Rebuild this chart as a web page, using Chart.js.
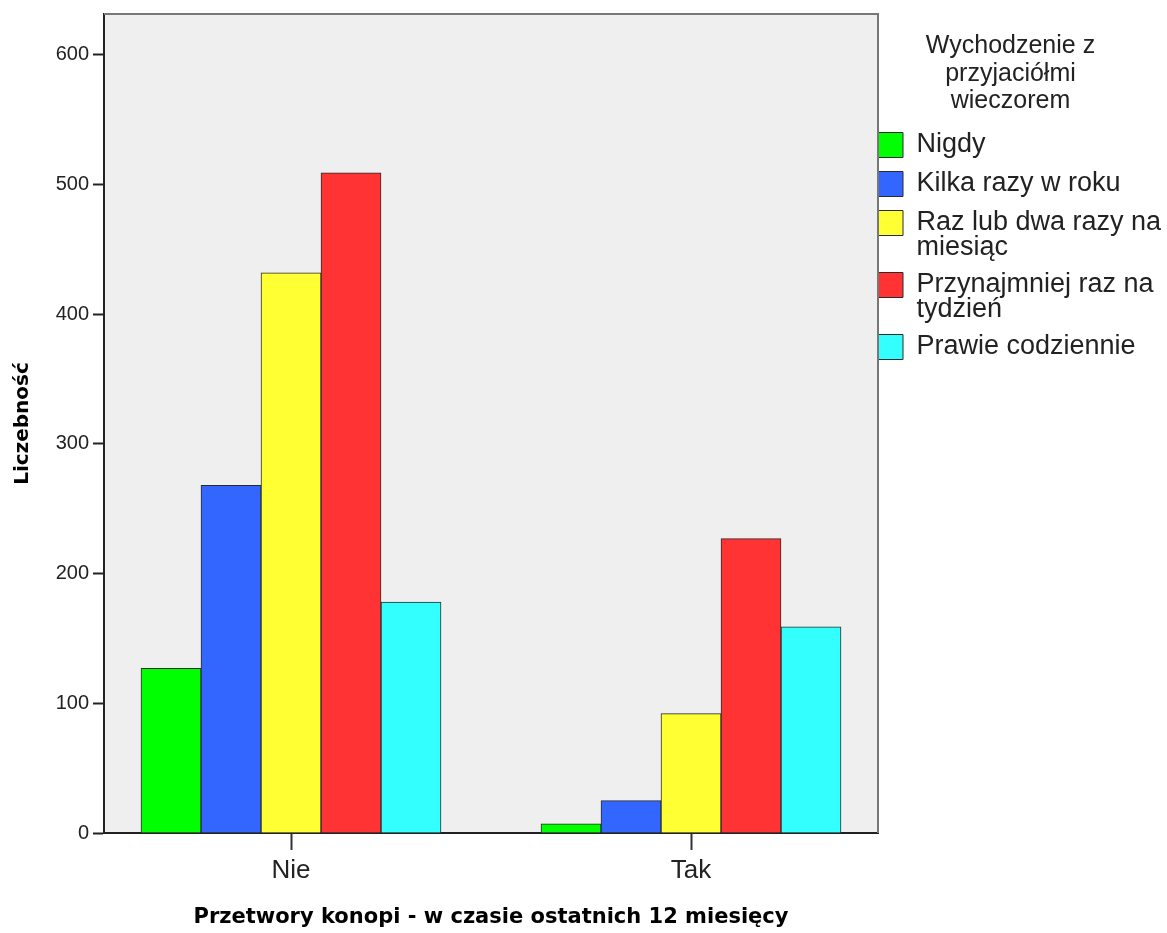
<!DOCTYPE html>
<html>
<head>
<meta charset="utf-8">
<script src="https://cdn.jsdelivr.net/npm/chart.js@4"></script>
<style>
  html, body { margin: 0; padding: 0; background: #ffffff; }
  #wrap { width: 1167px; height: 933px; }
</style>
</head>
<body>
<div id="wrap"><canvas id="chart_bars"></canvas></div>
<script>
const categories = ['Nie', 'Tak'];
const seriesNames = ['Nigdy', 'Kilka razy w roku', 'Raz lub dwa razy na\nmiesiąc', 'Przynajmniej raz na\ntydzień', 'Prawie codziennie'];
const nigdy = [127, 7];
const kilkaRazy = [268, 25];
const razLubDwa = [432, 92];
const przynajmniej = [509, 227];
const prawie = [178, 159];
const yTicks = [0, 100, 200, 300, 400, 500, 600];
const legendTitle = ['Wychodzenie z', 'przyjaciółmi', 'wieczorem'];

const seriesValues = [nigdy, kilkaRazy, razLubDwa, przynajmniej, prawie];
const colors = ['#00ff00', '#3366ff', '#ffff33', '#ff3333', '#33ffff'];

const textColor = '#222222';

// gray plot box with thin gray frame on top and right
const plotBox = {
  id: 'plotBox',
  beforeDraw(chart) {
    const {ctx, chartArea: a} = chart;
    ctx.save();
    ctx.fillStyle = '#efefef';
    ctx.fillRect(a.left, a.top, a.right - a.left, a.bottom - a.top);
    ctx.restore();
  },
  afterDraw(chart) {
    const {ctx, chartArea: a} = chart;
    ctx.save();
    ctx.strokeStyle = '#777777';
    ctx.lineWidth = 2;
    ctx.beginPath();
    ctx.moveTo(a.left, a.top);
    ctx.lineTo(a.right, a.top);
    ctx.lineTo(a.right, a.bottom);
    ctx.stroke();
    ctx.restore();
  },
  afterLayout(chart) {
    // legend boxes sit right against the plot frame
    chart.legend.left = chart.chartArea.right - 12;
  }
};

const datasets = seriesNames.map((name, i) => ({
  label: name,
  data: seriesValues[i].map((v, j) => ({x: j, y: v})),
  backgroundColor: colors[i],
  borderColor: '#2b2b2b',
  borderWidth: 1,
  barThickness: 60
}));

new Chart(document.getElementById('chart_bars'), {
  type: 'bar',
  data: { datasets: datasets },
  plugins: [plotBox],
  options: {
    responsive: true,
    maintainAspectRatio: false,
    animation: false,
    layout: { padding: { top: 12, right: 0, bottom: 0, left: 0 } },
    scales: {
      x: {
        type: 'linear',
        min: -0.4675,
        max: 1.4675,
        offset: false,
        z: 1,
        afterFit: (scale) => { scale.height = 100; },
        afterBuildTicks: (scale) => { scale.ticks = categories.map((c, i) => ({value: i})); },
        ticks: {
          callback: (v) => categories[v],
          color: textColor,
          padding: 5,
          font: { family: '"Liberation Sans", Arial, sans-serif', size: 26 }
        },
        grid: {
          offset: false,
          drawOnChartArea: false,
          drawTicks: true,
          tickLength: 17,
          tickWidth: 2,
          tickColor: '#333333'
        },
        border: { display: true, color: '#222222', width: 2 },
        title: {
          display: true,
          text: 'Przetwory konopi - w czasie ostatnich 12 miesięcy',
          color: '#000000',
          padding: { top: 0, bottom: 3 },
          font: { family: '"DejaVu Sans", sans-serif', size: 21, weight: 'bold' }
        }
      },
      y: {
        min: 0,
        max: 631.5,
        afterFit: (scale) => { scale.width = 104; },
        afterBuildTicks: (scale) => { scale.ticks = yTicks.map(v => ({value: v})); },
        ticks: {
          color: textColor,
          padding: 4,
          font: { family: '"Liberation Sans", Arial, sans-serif', size: 20, lineHeight: 1 }
        },
        grid: {
          drawOnChartArea: false,
          drawTicks: true,
          tickLength: 11,
          tickWidth: 2,
          tickColor: '#222222'
        },
        border: { display: true, color: '#222222', width: 2 },
        title: {
          display: true,
          text: 'Liczebność',
          color: '#000000',
          padding: { top: 11, bottom: 0 },
          font: { family: '"DejaVu Sans", sans-serif', size: 20, weight: 'bold' }
        }
      }
    },
    plugins: {
      tooltip: { enabled: false },
      legend: {
        position: 'right',
        align: 'start',
        maxWidth: 289,
        title: {
          display: true,
          text: legendTitle,
          color: textColor,
          position: 'center',
          padding: { top: 22, bottom: 58 },
          font: { family: '"Liberation Sans", Arial, sans-serif', size: 25, lineHeight: '27.5px' }
        },
        labels: {
          boxWidth: 25,
          boxHeight: 25,
          padding: 12,
          color: textColor,
          font: { family: '"Liberation Sans", Arial, sans-serif', size: 27, lineHeight: '25px' },
          generateLabels: (chart) => {
            const items = Chart.defaults.plugins.legend.labels.generateLabels(chart);
            items.forEach(it => {
              if (it.text.includes('\n')) it.text = it.text.split('\n');
            });
            return items;
          }
        }
      }
    }
  }
});
</script>
</body>
</html>
